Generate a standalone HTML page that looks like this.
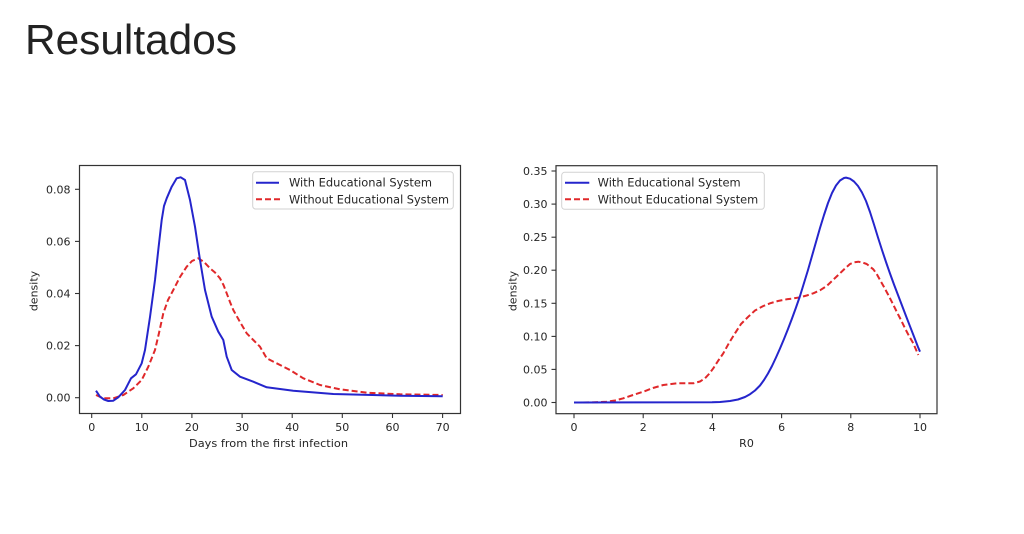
<!DOCTYPE html>
<html>
<head>
<meta charset="utf-8">
<style>
html,body{margin:0;padding:0;background:#fff;}
body{width:1024px;height:534px;overflow:hidden;}
svg{display:block;}
.t{font-family:"DejaVu Sans","Liberation Sans",sans-serif;font-size:11px;fill:#262626;}
.lg{font-family:"DejaVu Sans","Liberation Sans",sans-serif;font-size:11.4px;fill:#262626;}
</style>
</head>
<body>
<svg width="1024" height="534" viewBox="0 0 1024 534" xmlns="http://www.w3.org/2000/svg">
<rect width="1024" height="534" fill="#fff"/>
<text x="25" y="54" font-family="Liberation Sans, sans-serif" font-size="42" fill="#222" textLength="212" lengthAdjust="spacingAndGlyphs">Resultados</text>

<!-- LEFT CHART -->
<g>
<polyline fill="none" stroke="#e0282a" stroke-width="2" stroke-dasharray="6 3" stroke-linejoin="round"
points="96,395 103.3,398.3 113.3,398.3 123.3,395 133.3,388.3 141.7,380 148.3,366.7 155,350 159,333 163.3,313.3 168,300 173.3,290 180,277 186.7,266.7 192,261 198.3,258.3 204,262 210,268.3 215,272.5 220,278.3 223.5,285 226.7,293.3 230,302 233.3,310 240,322 246.7,333.3 253.3,340 260,346.7 266.7,358.3 276.7,363.3 290,370 303.3,378.3 320,385 340,389.3 366.7,392.7 400,394.3 442.7,395"/>
<polyline fill="none" stroke="#2525cc" stroke-width="2" stroke-linejoin="round"
points="96,390.7 100,396.7 104,399.5 108.3,401 113.3,400.7 118.3,397.3 125,390 131,378.3 136,374.3 141.7,363.3 145,350 150,317 155,280 158.5,248 161.7,220 164,206 166.7,198.3 171.7,186.7 176.7,178.3 180.7,177.3 185,180 190,200 195,226.7 200,260 205,290 211.7,316.7 218.3,331.7 223.3,340 226.7,356.7 231.7,370 240,376.7 253.3,381.7 266.7,387.3 293.3,390.7 333.3,394 400,395.7 442.7,396.3"/>
<rect x="79.5" y="165.5" width="381" height="248" fill="none" stroke="#333" stroke-width="1.2"/>
<g stroke="#333" stroke-width="1.1">
<line x1="75" y1="397.7" x2="79.5" y2="397.7"/>
<line x1="75" y1="345.6" x2="79.5" y2="345.6"/>
<line x1="75" y1="293.5" x2="79.5" y2="293.5"/>
<line x1="75" y1="241.4" x2="79.5" y2="241.4"/>
<line x1="75" y1="189.3" x2="79.5" y2="189.3"/>
<line x1="91.7" y1="413.5" x2="91.7" y2="418"/>
<line x1="141.8" y1="413.5" x2="141.8" y2="418"/>
<line x1="191.9" y1="413.5" x2="191.9" y2="418"/>
<line x1="242.1" y1="413.5" x2="242.1" y2="418"/>
<line x1="292.2" y1="413.5" x2="292.2" y2="418"/>
<line x1="342.3" y1="413.5" x2="342.3" y2="418"/>
<line x1="392.5" y1="413.5" x2="392.5" y2="418"/>
<line x1="442.6" y1="413.5" x2="442.6" y2="418"/>
</g>
<g class="t" text-anchor="end">
<text x="70.5" y="401.7">0.00</text>
<text x="70.5" y="349.6">0.02</text>
<text x="70.5" y="297.5">0.04</text>
<text x="70.5" y="245.4">0.06</text>
<text x="70.5" y="193.3">0.08</text>
</g>
<g class="t" text-anchor="middle">
<text x="91.7" y="431">0</text>
<text x="141.8" y="431">10</text>
<text x="191.9" y="431">20</text>
<text x="242.1" y="431">30</text>
<text x="292.2" y="431">40</text>
<text x="342.3" y="431">50</text>
<text x="392.5" y="431">60</text>
<text x="442.6" y="431">70</text>
<text x="268.5" y="447" textLength="159" lengthAdjust="spacingAndGlyphs">Days from the first infection</text>
<text x="0" y="0" transform="translate(37.5,291) rotate(-90)">density</text>
</g>
<rect x="252.7" y="171.7" width="200.6" height="37.3" rx="3" fill="#fff" fill-opacity="0.85" stroke="#d2d2d2" stroke-width="1"/>
<line x1="256" y1="182.7" x2="279" y2="182.7" stroke="#2525cc" stroke-width="2"/>
<line x1="256" y1="199.3" x2="280" y2="199.3" stroke="#e0282a" stroke-width="2" stroke-dasharray="6 3"/>
<text class="lg" x="289" y="186.7" textLength="143" lengthAdjust="spacingAndGlyphs">With Educational System</text>
<text class="lg" x="289" y="203.3" textLength="160" lengthAdjust="spacingAndGlyphs">Without Educational System</text>
</g>

<!-- RIGHT CHART -->
<g>
<polyline fill="none" stroke="#e0282a" stroke-width="2" stroke-dasharray="6 3" stroke-linejoin="round"
points="574,402.5 590,402.4 606.7,401.7 615,400.5 623.3,398.3 633,395 643.3,391.7 653,388 663.3,385 676.7,383.3 693.3,383.3 700,381.5 705,378.3 709,374 713.3,368.3 718,361 723.3,353.3 729,343 735,333.3 741,324 748.3,316.7 755,310.5 763.3,306 770,303.3 778,301 786.7,299.3 793,298.5 800,297.3 806.7,295.5 813.3,293.3 820,290.3 826.7,286 833,280 840,273.3 845,268.5 850,264 854,262.3 858.3,261.7 862.5,262.5 866.7,264 873.3,269.3 876.7,274 880,280 884,287 888.3,295 892.5,303.2 896.7,311.7 901,320 905,328.3 909,336 913.3,343.3 918.3,355"/>
<polyline fill="none" stroke="#2525cc" stroke-width="2" stroke-linejoin="round"
points="574,402.5 712,402.3 720,402 730,401 738,399.5 745,397 750,394.2 755,390.5 760,385.5 764,380 768,373.5 772,366 776,357.5 780,348.5 784,339 788,329 792,318.5 796,307.5 800,296 804,283 808,270 812,256 816,242 820,228 824,215 828,203 832,193 836,185.5 840,180.5 844,178 846,177.6 850,178.7 854,181.5 858,186 862,192.5 866,201 870,212 874,224.5 878,237.5 882,250 886,262 890,273.5 894,284.5 898,295 902,305.5 906,316 910,326.3 914,336.6 918,347 920,351.7"/>
<rect x="556" y="165.7" width="381" height="248" fill="none" stroke="#333" stroke-width="1.2"/>
<g stroke="#333" stroke-width="1.1">
<line x1="551.5" y1="402.5" x2="556" y2="402.5"/>
<line x1="551.5" y1="369.4" x2="556" y2="369.4"/>
<line x1="551.5" y1="336.4" x2="556" y2="336.4"/>
<line x1="551.5" y1="303.3" x2="556" y2="303.3"/>
<line x1="551.5" y1="270.2" x2="556" y2="270.2"/>
<line x1="551.5" y1="237.2" x2="556" y2="237.2"/>
<line x1="551.5" y1="204.1" x2="556" y2="204.1"/>
<line x1="551.5" y1="171" x2="556" y2="171"/>
<line x1="574" y1="413.7" x2="574" y2="418.2"/>
<line x1="643.2" y1="413.7" x2="643.2" y2="418.2"/>
<line x1="712.4" y1="413.7" x2="712.4" y2="418.2"/>
<line x1="781.6" y1="413.7" x2="781.6" y2="418.2"/>
<line x1="850.8" y1="413.7" x2="850.8" y2="418.2"/>
<line x1="920" y1="413.7" x2="920" y2="418.2"/>
</g>
<g class="t" text-anchor="end">
<text x="547.5" y="406.5">0.00</text>
<text x="547.5" y="373.4">0.05</text>
<text x="547.5" y="340.4">0.10</text>
<text x="547.5" y="307.3">0.15</text>
<text x="547.5" y="274.2">0.20</text>
<text x="547.5" y="241.2">0.25</text>
<text x="547.5" y="208.1">0.30</text>
<text x="547.5" y="175">0.35</text>
</g>
<g class="t" text-anchor="middle">
<text x="574" y="431">0</text>
<text x="643.2" y="431">2</text>
<text x="712.4" y="431">4</text>
<text x="781.6" y="431">6</text>
<text x="850.8" y="431">8</text>
<text x="920" y="431">10</text>
<text x="746.5" y="447">R0</text>
<text x="0" y="0" transform="translate(516.5,291) rotate(-90)">density</text>
</g>
<rect x="561.7" y="172.3" width="202.6" height="37" rx="3" fill="#fff" fill-opacity="0.85" stroke="#d2d2d2" stroke-width="1"/>
<line x1="565" y1="182.7" x2="589.3" y2="182.7" stroke="#2525cc" stroke-width="2"/>
<line x1="565" y1="199.3" x2="590" y2="199.3" stroke="#e0282a" stroke-width="2" stroke-dasharray="6 3"/>
<text class="lg" x="597.7" y="186.7" textLength="143" lengthAdjust="spacingAndGlyphs">With Educational System</text>
<text class="lg" x="597.7" y="203.3" textLength="160.5" lengthAdjust="spacingAndGlyphs">Without Educational System</text>
</g>
</svg>
</body>
</html>
